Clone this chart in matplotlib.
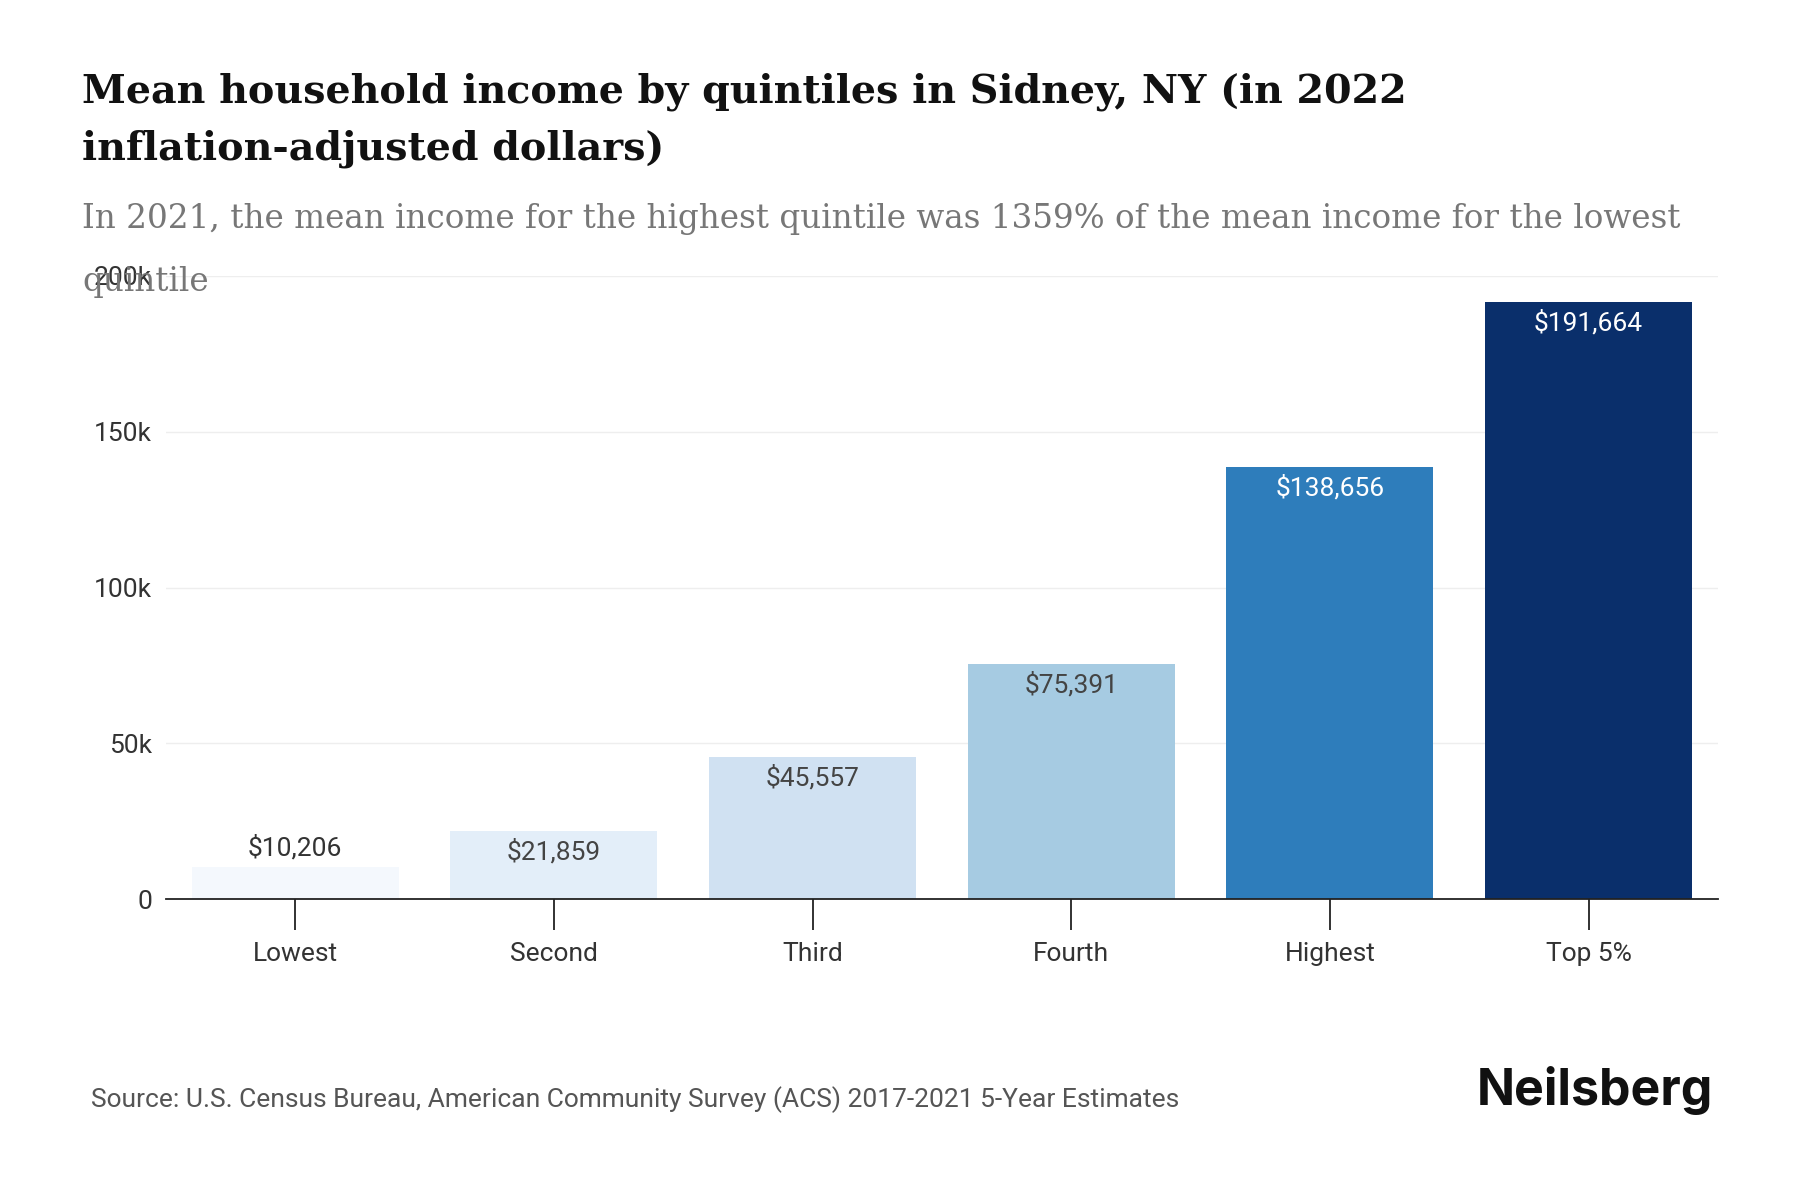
import matplotlib.pyplot as plt

categories = ["Lowest", "Second", "Third", "Fourth", "Highest", "Top 5%"]
incomes = [10206, 21859, 45557, 75391, 138656, 191664]
bar_colors = ["#f4f8fd", "#e3eef9", "#d0e1f2", "#a6cbe2", "#2e7dbb", "#0a2f6b"]
label_colors = ["#333333", "#444444", "#444444", "#444444", "#ffffff", "#ffffff"]
y_ticks = [0, 50000, 100000, 150000, 200000]
y_tick_labels = ["0", "50k", "100k", "150k", "200k"]

title = "Mean household income by quintiles in Sidney, NY (in 2022\ninflation-adjusted dollars)"
subtitle_1 = "In 2021, the mean income for the highest quintile was 1359% of the mean income for the lowest"
subtitle_2 = "quintile"
source = "Source: U.S. Census Bureau, American Community Survey (ACS) 2017-2021 5-Year Estimates"

sans = ["Roboto", "DejaVu Sans"]
serif = ["DejaVu Serif"]

fig = plt.figure(figsize=(18, 12), dpi=100)
ax = fig.add_axes([0.0922, 0.2508, 0.8622, 0.5192])

x = range(len(categories))
bars = ax.bar(x, incomes, width=0.8, color=bar_colors, zorder=2)

for rect, val, lc in zip(bars, incomes, label_colors):
    cx = rect.get_x() + rect.get_width() / 2
    if val < 15000:
        # small bar: label sits above it
        ax.annotate(f"${val:,}", (cx, val), xytext=(0, 14), textcoords="offset points",
                    ha="center", va="center", fontsize=19, color="#333333", family=sans)
    else:
        ax.annotate(f"${val:,}", (cx, val), xytext=(0, -15), textcoords="offset points",
                    ha="center", va="center", fontsize=19, color=lc, family=sans)

ax.set_xlim(-0.5, len(categories) - 0.5)
ax.set_ylim(0, 200000)
ax.set_yticks(y_ticks)
ax.set_yticklabels(y_tick_labels)
ax.set_xticks(list(x))
ax.set_xticklabels(categories)
ax.grid(axis="y", color="#eeeeee", lw=1, zorder=0)
for s in ["top", "right", "left"]:
    ax.spines[s].set_visible(False)
ax.spines["bottom"].set_color("#222222")
ax.spines["bottom"].set_linewidth(1.3)
ax.tick_params(axis="y", length=0, pad=10, labelsize=19, labelcolor="#333333")
ax.tick_params(axis="x", length=22, width=1.3, color="#222222", pad=9,
               labelsize=19, labelcolor="#333333")
for lab in ax.get_xticklabels() + ax.get_yticklabels():
    lab.set_family(sans)

fig.text(0.0455, 0.9, title, ha="left", va="center", fontsize=28.5,
         fontweight="bold", family=serif, color="#111111", linespacing=1.6)
fig.text(0.0455, 0.8175, subtitle_1, ha="left", va="center", fontsize=23.5,
         family=serif, color="#777777")
fig.text(0.0455, 0.765, subtitle_2, ha="left", va="center", fontsize=23.5,
         family=serif, color="#777777")
fig.text(0.0505, 0.0835, source, ha="left", va="center", fontsize=19,
         family=sans, color="#555555")
fig.text(0.952, 0.0915, "Neilsberg", ha="right", va="center", fontsize=36,
         fontweight="bold", family=["Inter", "DejaVu Sans"], color="#111111")

fig.savefig("out.png", dpi=100, facecolor="white")
